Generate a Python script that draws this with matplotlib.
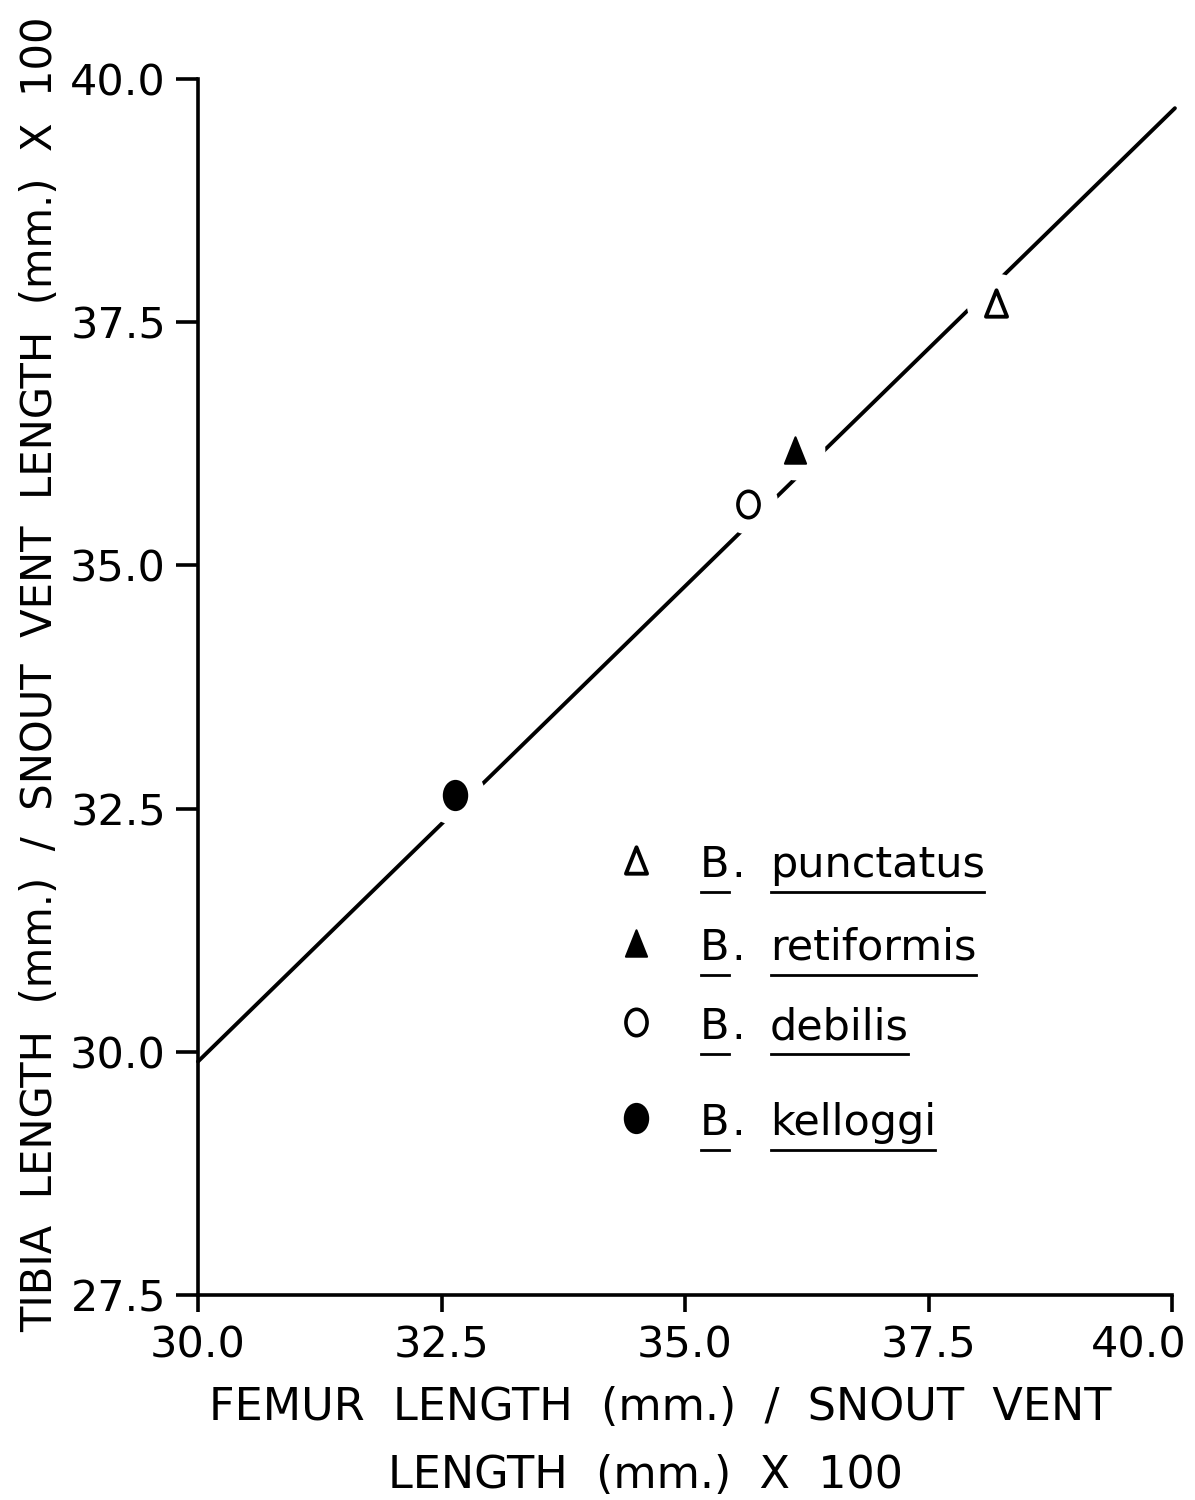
import numpy as np
import matplotlib
matplotlib.use('agg')
import matplotlib.pyplot as plt
from matplotlib.path import Path
from matplotlib.lines import Line2D
from matplotlib.transforms import ScaledTranslation

# values
species = ['punctatus', 'retiformis', 'debilis', 'kelloggi']
femur_ratio = [38.19, 36.13, 35.65, 32.64]
tibia_ratio = [37.70, 36.19, 35.63, 32.64]

# regression line end points
line_x = [30.0, 40.03]
line_y = [29.90, 39.70]

xticks = [30.0, 32.5, 35.0, 37.5, 40.0]
yticks = [27.5, 30.0, 32.5, 35.0, 37.5, 40.0]

# marker shapes: slightly tall triangle and ellipse
tri = Path([(-0.8, -1.0), (0.8, -1.0), (0.0, 1.0), (-0.8, -1.0)],
           [Path.MOVETO, Path.LINETO, Path.LINETO, Path.CLOSEPOLY])
uc = Path.unit_circle()
ell = Path(uc.vertices * np.array([0.8, 1.0]), uc.codes)

styles = [dict(marker=tri, mfc='white', mec='black', ms=19, mew=2.8),
          dict(marker=tri, mfc='black', mec='black', ms=19, mew=1.5),
          dict(marker=ell, mfc='white', mec='black', ms=19, mew=2.6),
          dict(marker=ell, mfc='black', mec='black', ms=21, mew=1.5)]


def plot_chart():
    fig = plt.figure(figsize=(11.95, 15), dpi=100)
    ax = fig.add_axes([198/1195., 205/1500., 974/1195., 1216/1500.])

    ax.plot(line_x, line_y, color='black', lw=2.8, zorder=2, clip_on=False,
            solid_capstyle='round')

    for i in range(len(species)):
        # white patch breaks the line around each point
        ax.plot(femur_ratio[i], tibia_ratio[i], 'o', ms=43, mfc='white',
                mec='none', zorder=3)
        ax.plot(femur_ratio[i], tibia_ratio[i], ls='none', zorder=4,
                **styles[i])

    ax.set_xlim(30, 40)
    ax.set_ylim(27.5, 40)
    ax.set_xticks(xticks)
    ax.set_yticks(yticks)
    ax.set_xticklabels(['%.1f' % v for v in xticks])
    ax.set_yticklabels(['%.1f' % v for v in yticks])
    for s in ['top', 'right']:
        ax.spines[s].set_visible(False)
    for s in ['left', 'bottom']:
        ax.spines[s].set_linewidth(2.6)
    ax.tick_params(axis='y', length=16, width=2.6, labelsize=31, pad=7)
    ax.tick_params(axis='x', length=12, width=2.6, labelsize=31, pad=9)
    # last x label sits pulled in from the edge
    last = ax.get_xticklabels()[-1]
    last.set_transform(last.get_transform() +
                       ScaledTranslation(-0.33, 0, fig.dpi_scale_trans))

    fig.text(40/1195., 1 - 674/1500.,
             'TIBIA  LENGTH  (mm.)  /  SNOUT  VENT  LENGTH  (mm.)  X  100',
             rotation=90, ha='center', va='center', fontsize=30)
    fig.text(660/1195., 1 - 1408/1500., 'FEMUR  LENGTH  (mm.)  /  SNOUT  VENT',
             ha='center', va='center', fontsize=32)
    fig.text(645/1195., 1 - 1475/1500., 'LENGTH  (mm.)  X  100',
             ha='center', va='center', fontsize=32)

    # hand drawn key
    rows = [860, 943, 1022, 1118]
    labels = []
    for i in range(len(species)):
        yy = 1 - rows[i]/1500.
        yb = 1 - (rows[i] + 17)/1500.
        ax.plot(636/1195., yy, transform=fig.transFigure, clip_on=False,
                ls='none', zorder=4, **styles[i])
        tb = fig.text(700/1195., yb, 'B', ha='left', va='baseline',
                      fontsize=31)
        fig.text(731/1195., yb, '.', ha='left', va='baseline', fontsize=31)
        ts = fig.text(770/1195., yb, species[i], ha='left', va='baseline',
                      fontsize=31)
        labels.append((tb, ts))
    fig.canvas.draw()
    r = fig.canvas.get_renderer()
    for tb, ts in labels:
        # underline a little under the baseline
        y0 = tb.get_window_extent(renderer=r).y0 - 6
        for t in (tb, ts):
            bb = t.get_window_extent(renderer=r)
            fig.add_artist(Line2D([bb.x0 + 1, bb.x1 - 1], [y0, y0],
                                  color='black', lw=2.0, transform=None))

    plt.savefig('out.png', dpi=100)


if __name__ == "__main__":
    plot_chart()
